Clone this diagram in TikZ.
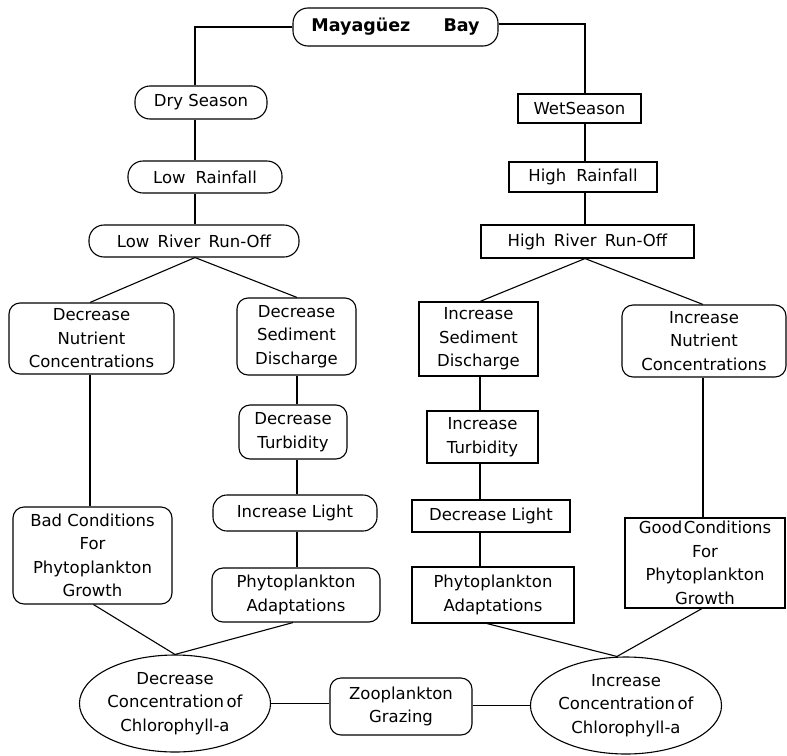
\documentclass[tikz,border=0pt]{standalone}
\usepackage{fontspec}
\setmainfont{DejaVu Sans}
\usetikzlibrary{shapes.geometric}
\tikzset{
  base/.style={draw, line width=1.1pt, inner sep=0pt, align=center, font=\fontsize{16.5}{23.5}\selectfont},
  pill/.style={base, rounded corners=15pt},
  rbox/.style={base, rounded corners=11pt},
  sbox/.style={base},
  oval/.style={base, ellipse},
  link/.style={line width=1.1pt},
  sz/.style 2 args={minimum width=#1pt, minimum height=#2pt}
}
\begin{document}
\begin{tikzpicture}[x=1pt,y=-1pt]
\useasboundingbox (0,0) rectangle (787,755);
% columns
\coordinate (lx) at (195,0);
\coordinate (rx) at (585,0);
\coordinate (lx2) at (90,0);
\coordinate (mx) at (297,0);
\coordinate (mx2) at (480,0);
\coordinate (rx2) at (703,0);
% top
\node[pill, sz={205}{38}, font=\fontsize{17.5}{23.5}\selectfont\bfseries] (bay) at (395.5,27) {Mayagüez\hspace{1.9em}Bay};
% left chain
\node[pill, sz={132}{33}] (dry) at (201,102.5) {Dry Season};
\node[pill, sz={154}{32}] (lowrain) at (205,177) {Low\hspace{0.6em}Rainfall};
\node[pill, sz={210}{32}] (lowrun) at (194,241) {Low\hspace{0.5em}River\hspace{0.5em}Run-Off};
\node[rbox, sz={165}{71}] (decnut) at (91.5,338.5) {Decrease\\Nutrient\\Concentrations};
\node[rbox, sz={119}{77}] (decsed) at (296.5,336.5) {Decrease\\Sediment\\Discharge};
\node[rbox, sz={108}{54}] (decturb) at (293,432) {Decrease\\Turbidity};
\node[rbox, sz={164}{36}, rounded corners=14pt] (inclight) at (295,513) {Increase Light};
\node[rbox, sz={168}{54}] (phytoL) at (296,595) {Phytoplankton\\Adaptations};
\node[rbox, sz={159}{97}] (bad) at (92.5,555.5) {Bad Conditions\\For\\Phytoplankton\\Growth};
\node[oval, sz={176}{97}] (decchl) at (175,703.5) {Decrease\\Concentration\hspace{0.15em}of\\Chlorophyll-a};
\node[rbox, sz={142}{57}] (zoo) at (401,706.5) {Zooplankton\\Grazing};
% right chain
\node[sbox, sz={123}{29}] (wet) at (579.5,108.5) {WetSeason};
\node[sbox, sz={148}{30}] (highrain) at (583,177) {High\hspace{0.6em}Rainfall};
\node[sbox, sz={213}{33}] (highrun) at (587.5,241.5) {High\hspace{0.5em}River\hspace{0.5em}Run-Off};
\node[sbox, sz={119}{74}] (incsed) at (478.5,339) {Increase\\Sediment\\Discharge};
\node[rbox, sz={164}{72}] (incnut) at (704,341) {Increase\\Nutrient\\Concentrations};
\node[sbox, sz={111}{52}] (incturb) at (482.5,437) {Increase\\Turbidity};
\node[sbox, sz={158}{32}] (declight) at (491,516) {Decrease Light};
\node[sbox, sz={162}{56}] (phytoR) at (493,595) {Phytoplankton\\Adaptations};
\node[sbox, sz={160}{90}] (good) at (705,563) {Good\hspace{0.1em}Conditions\\For\\Phytoplankton\\Growth};
\node[oval, sz={178}{97}] (incchl) at (626,705.5) {Increase\\Concentration\hspace{0.15em}of\\Chlorophyll-a};
% connectors left
\draw[link] (bay.west) -| (dry.north -| lx);
\draw[link] (dry.south -| lx) -- (lowrain.north -| lx);
\draw[link] (lowrain.south -| lx) -- (lowrun.north -| lx);
\draw[link] (lowrun.south -| lx) -- (decnut.north -| lx2);
\draw[link] (lowrun.south -| lx) -- (decsed.north -| mx);
\draw[link] (decnut.south -| lx2) -- (bad.north -| lx2);
\draw[link] (decsed.south -| mx) -- (decturb.north -| mx);
\draw[link] (decturb.south -| mx) -- (inclight.north -| mx);
\draw[link] (inclight.south -| mx) -- (phytoL.north -| mx);
\draw[link] ([xshift=1pt]bad.south) -- (decchl.north);
\draw[link] ([xshift=-3pt]phytoL.south) -- (decchl.north);
\draw[link] (decchl.east) -- (zoo.west |- decchl.east);
\draw[link] (zoo.east |- incchl.west) -- (incchl.west);
% connectors right
\draw[link] ([yshift=3pt]bay.east) -| (wet.north -| rx);
\draw[link] (wet.south -| rx) -- (highrain.north -| rx);
\draw[link] (highrain.south -| rx) -- (highrun.north -| rx);
\draw[link] (highrun.south -| rx) -- (incsed.north -| mx2);
\draw[link] (highrun.south -| rx) -- (incnut.north -| rx2);
\draw[link] (incsed.south -| mx2) -- (incturb.north -| mx2);
\draw[link] (incturb.south -| mx2) -- (declight.north -| mx2);
\draw[link] (declight.south -| mx2) -- (phytoR.north -| mx2);
\draw[link] (incnut.south -| rx2) -- (good.north -| rx2);
\draw[link] ([xshift=-6pt]phytoR.south) -- ([xshift=-9pt]incchl.north);
\draw[link] ([xshift=-3pt]good.south) -- ([xshift=-9pt]incchl.north);
\end{tikzpicture}
\end{document}
